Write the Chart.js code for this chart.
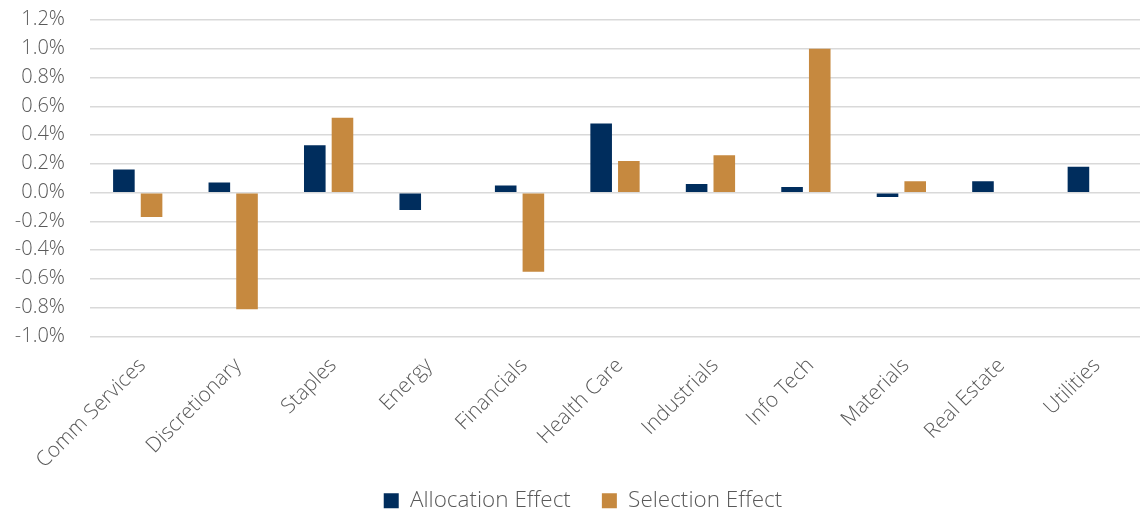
<!DOCTYPE html>
<html>
<head>
<meta charset="utf-8">
<script src="https://cdn.jsdelivr.net/npm/chart.js@4"></script>
<style>
  html, body { margin: 0; padding: 0; background: #ffffff; }
  #wrap { width: 1140px; height: 513px; }
</style>
</head>
<body>
<div id="wrap"><canvas id="graphCanvas"></canvas></div>
<script>
var sectors = ["Comm Services", "Discretionary", "Staples", "Energy", "Financials",
  "Health Care", "Industrials", "Info Tech", "Materials", "Real Estate", "Utilities"];
var allocation = [0.16, 0.07, 0.33, -0.12, 0.05, 0.48, 0.06, 0.04, -0.03, 0.08, 0.18];
var selection = [-0.17, -0.81, 0.52, 0, -0.55, 0.22, 0.26, 1.00, 0.08, 0, 0];
var yTicks = [-1.0, -0.8, -0.6, -0.4, -0.2, 0.0, 0.2, 0.4, 0.6, 0.8, 1.0, 1.2];

var fontFamily = "'Segoe UI Light', 'Open Sans Light', 'Lato Light', 'Open Sans', sans-serif";
var textColor = "#595959";

// don't clip tick labels to the axis box
function noLabelClip(s) {
  s._computeLabelArea = function () { return undefined; };
}

var chartdata = {
  labels: sectors,
  datasets: [
    {
      label: "Allocation Effect",
      backgroundColor: "#002D5D",
      data: allocation,
    },
    {
      label: "Selection Effect",
      backgroundColor: "#C6893F",
      data: selection,
    },
  ],
};

new Chart(document.getElementById("graphCanvas"), {
  type: "bar",
  data: chartdata,
  options: {
    responsive: true,
    maintainAspectRatio: false,
    animation: false,
    datasets: {
      bar: { categoryPercentage: 0.58, barPercentage: 0.78 }
    },
    // left padding nudges the legend right; negative bottom lets it sit lower
    layout: { padding: { top: 0, left: 26, right: 0, bottom: -9 } },
    plugins: {
      tooltip: { enabled: false },
      legend: {
        position: "bottom",
        labels: {
          boxWidth: 15,
          boxHeight: 15,
          padding: 31,
          color: textColor,
          font: { family: fontFamily, size: 22.5, weight: "300" }
        }
      }
    },
    scales: {
      x: {
        grid: { display: false, drawTicks: false },
        border: { display: false },
        afterFit: function (s) {
          s.height = 122;
          s.paddingLeft = 0;
          noLabelClip(s);
        },
        ticks: {
          color: textColor,
          minRotation: 45,
          maxRotation: 45,
          autoSkip: false,
          padding: 17,
          labelOffset: 5,
          font: { family: fontFamily, size: 21, weight: "300" }
        }
      },
      y: {
        min: -1.0,
        max: 1.2,
        afterBuildTicks: function (axis) {
          axis.ticks = yTicks.map(function (v) { return { value: v }; });
        },
        afterFit: function (s) {
          s.width = 64;
          s.paddingTop = 20;
          s.paddingBottom = 0;
          noLabelClip(s);
        },
        grid: { color: "#D9D9D9", lineWidth: 1.5, drawTicks: false },
        border: { display: false },
        ticks: {
          color: textColor,
          autoSkip: false,
          padding: 25,
          font: { family: fontFamily, size: 20, weight: "300" },
          callback: function (v) { return v.toFixed(1) + "%"; }
        }
      }
    }
  }
});
</script>
</body>
</html>
